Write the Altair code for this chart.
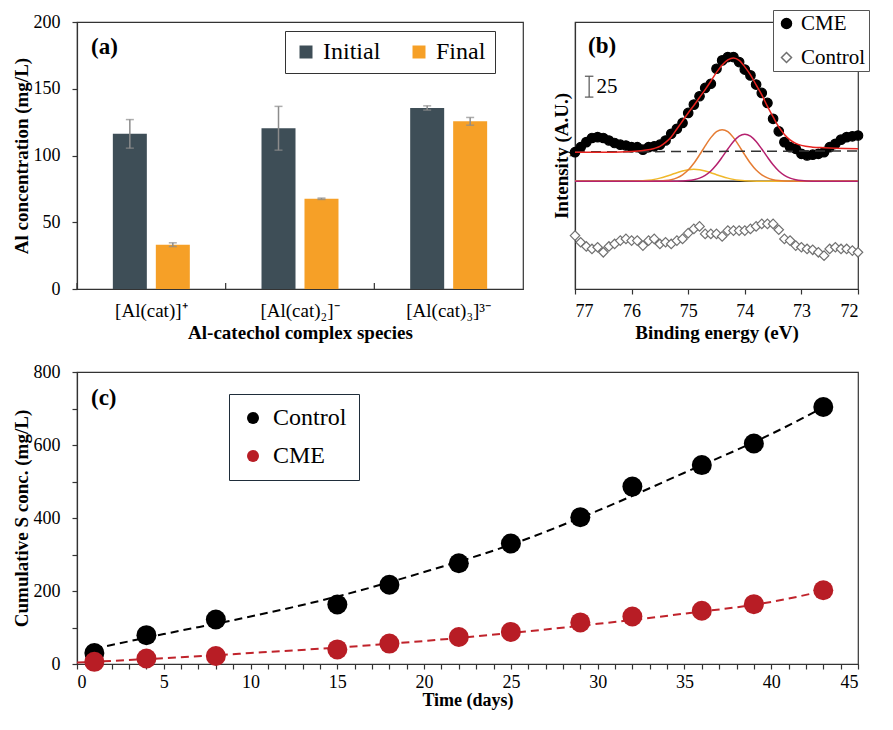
import altair as alt
import pandas as pd

FONT = "Liberation Serif"

# ---------------- Panel (a) data ----------------
species = ["[Al(cat)]⁺", "[Al(cat)₂]⁻", "[Al(cat)₃]³⁻"]
series_a = ["Initial", "Final"]
initial_vals = [116.2, 120.4, 135.6]
initial_err = [10.7, 16.4, 1.6]
final_vals = [33.2, 67.6, 125.6]
final_err = [1.4, 0.5, 2.9]
a_yticks = [0, 25, 50, 75, 100, 125, 150, 175, 200]

# ---------------- Panel (b) data ----------------
be_grid = [77.0, 76.9, 76.8, 76.7, 76.6, 76.5, 76.4, 76.3, 76.2, 76.1, 76.0,
           75.9, 75.8, 75.7, 75.6, 75.5, 75.4, 75.3, 75.2, 75.1, 75.0,
           74.9, 74.8, 74.7, 74.6, 74.5, 74.4, 74.3, 74.2, 74.1, 74.0,
           73.9, 73.8, 73.7, 73.6, 73.5, 73.4, 73.3, 73.2, 73.1, 73.0,
           72.9, 72.8, 72.7, 72.6, 72.5, 72.4, 72.3, 72.2, 72.1, 72.0]
cme_int = [164, 170, 176, 181, 182, 181, 178, 175, 173, 172, 170,
           170, 167, 170, 171, 173, 178, 186, 192, 199, 211,
           221, 231, 241, 246, 264, 274, 278, 278, 272, 263,
           256, 245, 235, 223, 204, 189, 176, 170, 168, 162,
           160, 161, 162, 164, 170, 174, 179, 182, 183, 184]
ctl_int = [64, 56, 51, 48, 50, 44, 51, 54, 58, 60, 58,
           58, 52, 58, 60, 54, 56, 54, 58, 60, 67,
           72, 75, 66, 66, 66, 63, 70, 70, 70, 70,
           72, 75, 78, 78, 78, 71, 60, 58, 52, 50,
           48, 47, 44, 40, 48, 50, 48, 48, 46, 44]

env_x = [77.0, 76.6, 76.2, 76.0, 75.8, 75.6, 75.5, 75.4, 75.3, 75.2, 75.1, 75.0,
         74.9, 74.8, 74.7, 74.6, 74.5, 74.4, 74.3, 74.2, 74.1, 74.0, 73.9, 73.8,
         73.7, 73.6, 73.5, 73.4, 73.3, 73.2, 73.1, 73.0, 72.8, 72.6, 72.4, 72.0]
env_y = [163.9, 164.0, 164.3, 164.9, 166.1, 168.5, 170.9, 175.7, 182.3, 191.8, 201.4, 211.0,
         220.0, 229.5, 239.0, 249.0, 259.6, 268.6, 274.6, 277.0, 274.0, 266.2, 256.6, 244.6,
         232.6, 218.8, 206.2, 194.2, 185.3, 178.7, 174.5, 172.1, 170.0, 169.3, 168.8, 168.2]

orange_x = [77.0, 76.0, 75.8, 75.6, 75.4, 75.3, 75.2, 75.1, 75.0, 74.9, 74.8, 74.7, 74.6, 74.5,
            74.4, 74.3, 74.2, 74.1, 74.0, 73.9, 73.8, 73.7, 73.6, 73.5, 73.4, 73.2, 73.0, 72.0]
orange_y = [129, 129, 129, 129.1, 129.9, 131.0, 133.2, 136.9, 142.6, 150.7, 160.7, 171.5, 181.4, 188.5,
            191.0, 188.5, 181.4, 171.5, 160.7, 150.7, 142.6, 136.9, 133.2, 131.0, 129.9, 129.1, 129, 129]

magenta_x = [77.0, 75.4, 75.2, 75.0, 74.9, 74.8, 74.7, 74.6, 74.5, 74.4, 74.3, 74.2, 74.1, 74.0,
             73.9, 73.8, 73.7, 73.6, 73.5, 73.4, 73.3, 73.2, 73.1, 73.0, 72.8, 72.6, 72.0]
magenta_y = [129, 129, 129.1, 129.9, 131.0, 132.9, 136.3, 141.5, 148.9, 158.0, 167.8, 176.8, 183.3, 185.6,
             183.3, 176.8, 167.8, 158.0, 148.9, 141.5, 136.3, 132.9, 131.0, 129.9, 129.1, 129, 129]

yellow_x = [77.0, 76.1, 75.9, 75.8, 75.7, 75.6, 75.5, 75.4, 75.3, 75.2, 75.1, 75.0, 74.9,
            74.8, 74.7, 74.6, 74.5, 74.4, 74.3, 74.2, 74.1, 74.0, 73.9, 73.7, 72.0]
yellow_y = [129, 129.1, 129.4, 129.7, 130.4, 131.4, 132.9, 134.8, 137.0, 139.4, 141.4, 142.9, 143.4,
            142.9, 141.4, 139.4, 137.0, 134.8, 132.9, 131.4, 130.4, 129.7, 129.4, 129.1, 129]

dash_base_x = [77.0, 72.0]
dash_base_y = [164.3, 165.5]
solid_base_x = [77.0, 72.0]
solid_base_y = [129, 129]
b_xticks = [77, 76.5, 76, 75.5, 75, 74.5, 74, 73.5, 73, 72.5, 72]
scalebar_x = [76.75]
scalebar_lo = [230]
scalebar_hi = [255]

# ---------------- Panel (c) data ----------------
days = [1, 4, 8, 15, 18, 22, 25, 29, 32, 36, 39, 43]
control_s = [30, 79, 122, 163, 217, 276, 330, 402, 486, 545, 604, 704]
cme_s = [6, 15, 22, 40, 56, 74, 88, 114, 130, 146, 164, 202]
fit_control_days = [1, 5, 10, 15, 20, 25, 30, 35, 40, 43]
fit_control = [42, 82, 130, 185, 252, 327, 420, 524, 630, 703]
fit_cme_days = [0, 5, 10, 15, 20, 25, 30, 35, 40, 43]
fit_cme = [4, 16, 30, 45, 63, 85, 110, 138, 170, 200]
c_xticks = list(range(0, 46))
c_yticks = [0, 100, 200, 300, 400, 500, 600, 700, 800]

W_A, W_B, H_TOP = 446, 283, 267
W_C, H_C = 781, 292

# ================= Panel (a) =================
df_a = pd.DataFrame({
    "species": species * 2,
    "series": ["Initial"] * 3 + ["Final"] * 3,
    "value": initial_vals + final_vals,
    "err": initial_err + final_err,
})
df_a["lo"] = df_a["value"] - df_a["err"]
df_a["hi"] = df_a["value"] + df_a["err"]

x_a = alt.X("species:N", sort=species,
            scale=alt.Scale(paddingInner=0, paddingOuter=0),
            axis=alt.Axis(title="Al-catechol complex species", labelAngle=0, ticks=False,
                          labelFontSize=19, labelPadding=12, titlePadding=3))
xo_a = alt.XOffset("series:N", sort=series_a,
                   scale=alt.Scale(paddingInner=0.209, paddingOuter=0.834))
y_a = alt.Y("value:Q", scale=alt.Scale(domain=[0, 200], nice=False),
            axis=alt.Axis(title="Al concentration (mg/L)", values=a_yticks,
                          labelExpr="datum.value % 50 == 0 ? datum.label : ''",
                          labelPadding=12, titlePadding=2))

bars = alt.Chart(df_a).mark_bar().encode(
    x=x_a, xOffset=xo_a, y=y_a,
    color=alt.Color("series:N", sort=series_a,
                    scale=alt.Scale(domain=series_a, range=["#3e4e57", "#f6a027"]),
                    legend=alt.Legend(title=None, orient="none", legendX=208, legendY=9,
                                      direction="horizontal", symbolType="square",
                                      symbolSize=169, labelFontSize=24, padding=9,
                                      strokeColor="#333", columnPadding=26, labelOffset=5,
                                      fillColor="white")))
err_rule = alt.Chart(df_a).mark_rule(color="#8c8c8c", strokeWidth=1.5).encode(
    x=x_a, xOffset=xo_a, y=alt.Y("lo:Q"), y2="hi:Q")
cap_lo = alt.Chart(df_a).mark_tick(color="#8c8c8c", size=8, thickness=1.5).encode(
    x=x_a, xOffset=xo_a, y=alt.Y("lo:Q"))
cap_hi = alt.Chart(df_a).mark_tick(color="#8c8c8c", size=8, thickness=1.5).encode(
    x=x_a, xOffset=xo_a, y=alt.Y("hi:Q"))
sep = alt.Chart(pd.DataFrame({"species": species})).mark_rule(color="#333", strokeWidth=1.2).encode(
    x=alt.X("species:N", sort=species, bandPosition=0),
    y=alt.value(H_TOP - 6), y2=alt.value(H_TOP))
lab_a = alt.Chart(pd.DataFrame({"t": ["(a)"]})).mark_text(
    font=FONT, fontSize=23, fontWeight="bold", align="left", baseline="middle", color="black"
).encode(text="t:N", x=alt.value(14), y=alt.value(25))

chart_a = alt.layer(bars, err_rule, cap_lo, cap_hi, sep, lab_a).properties(width=W_A, height=H_TOP)

# ================= Panel (b) =================
df_pts = pd.concat([
    pd.DataFrame({"be": be_grid, "intensity": cme_int, "sample": "CME"}),
    pd.DataFrame({"be": be_grid, "intensity": ctl_int, "sample": "Control"}),
])
x_b = alt.X("be:Q", scale=alt.Scale(domain=[72, 77], reverse=True, nice=False),
            axis=alt.Axis(title="Binding energy (eV)", values=b_xticks,
                          labelExpr="datum.value % 1 == 0 ? format(datum.value, 'd') : ''",
                          labelPadding=8, titlePadding=3))
y_b = alt.Y("intensity:Q", scale=alt.Scale(domain=[0, 320], nice=False),
            axis=alt.Axis(title="Intensity (A.U.)", labels=False, ticks=False, titlePadding=4))

samples_b = ["CME", "Control"]
leg_b = alt.Legend(title=None, orient="none", legendX=198, legendY=-12, padding=3,
                   rowPadding=12, symbolSize=100, labelFontSize=21, strokeColor="#555",
                   labelOffset=4, fillColor="white")
pts_b = alt.Chart(df_pts).mark_point(filled=True, strokeWidth=1.2, opacity=1).encode(
    x=x_b, y=y_b,
    shape=alt.Shape("sample:N", sort=samples_b,
                    scale=alt.Scale(domain=samples_b, range=["circle", "diamond"]), legend=leg_b),
    fill=alt.Fill("sample:N", sort=samples_b,
                  scale=alt.Scale(domain=samples_b, range=["black", "white"]), legend=leg_b),
    stroke=alt.Stroke("sample:N", sort=samples_b,
                      scale=alt.Scale(domain=samples_b, range=["black", "#707070"]), legend=leg_b),
    size=alt.value(90),
)


def line_layer(xs, ys, color, width=1.5, dash=None):
    df = pd.DataFrame({"be": xs, "intensity": ys})
    if dash is None:
        m = alt.Chart(df).mark_line(color=color, strokeWidth=width, interpolate="monotone")
    else:
        m = alt.Chart(df).mark_line(color=color, strokeWidth=width, strokeDash=dash)
    return m.encode(x=x_b, y=y_b)


solid_line = line_layer(solid_base_x, solid_base_y, "#222222", 1.5)
yellow_line = line_layer(yellow_x, yellow_y, "#f0b82a", 1.5)
orange_line = line_layer(orange_x, orange_y, "#e57c33", 1.5)
magenta_line = line_layer(magenta_x, magenta_y, "#b5206e", 1.5)
dash_line = line_layer(dash_base_x, dash_base_y, "#333333", 1.5, dash=[10, 6])
env_line = line_layer(env_x, env_y, "#e8231f", 1.5)

df_sb = pd.DataFrame({"be": scalebar_x, "lo": scalebar_lo, "hi": scalebar_hi,
                      "c1": [76.825], "c2": [76.675], "tx": [76.62], "ty": [242], "t": ["25"]})
sb_rule = alt.Chart(df_sb).mark_rule(color="#555", strokeWidth=1.2).encode(
    x=alt.X("be:Q"), y=alt.Y("lo:Q"), y2="hi:Q")
sb_cap1 = alt.Chart(df_sb).mark_rule(color="#555", strokeWidth=1.2).encode(
    x=alt.X("c1:Q"), x2="c2:Q", y=alt.Y("lo:Q"))
sb_cap2 = alt.Chart(df_sb).mark_rule(color="#555", strokeWidth=1.2).encode(
    x=alt.X("c1:Q"), x2="c2:Q", y=alt.Y("hi:Q"))
sb_text = alt.Chart(df_sb).mark_text(font=FONT, fontSize=21, align="left", baseline="middle",
                                     color="black").encode(
    x=alt.X("tx:Q"), y=alt.Y("ty:Q"), text="t:N")
lab_b = alt.Chart(pd.DataFrame({"t": ["(b)"]})).mark_text(
    font=FONT, fontSize=23, fontWeight="bold", align="left", baseline="middle", color="black"
).encode(text="t:N", x=alt.value(13), y=alt.value(24))

chart_b = alt.layer(pts_b, solid_line, yellow_line, orange_line, magenta_line, dash_line,
                    env_line, sb_rule, sb_cap1, sb_cap2, sb_text, lab_b
                    ).properties(width=W_B, height=H_TOP)

# ================= Panel (c) =================
samples_c = ["Control", "CME"]
df_c = pd.DataFrame({"day": days * 2, "conc": control_s + cme_s,
                     "sample": ["Control"] * len(days) + ["CME"] * len(days)})
x_c = alt.X("day:Q", scale=alt.Scale(domain=[0, 45], nice=False),
            axis=alt.Axis(title="Time (days)", values=c_xticks,
                          labelExpr="datum.value % 5 == 0 ? datum.label : ''",
                          labelPadding=4, titlePadding=0, titleFontSize=18))
y_c = alt.Y("conc:Q", scale=alt.Scale(domain=[0, 800], nice=False),
            axis=alt.Axis(title="Cumulative S conc. (mg/L)", values=c_yticks,
                          labelExpr="datum.value % 200 == 0 ? datum.label : ''",
                          labelPadding=12, titlePadding=2))

fit_ctl_line = alt.Chart(pd.DataFrame({"day": fit_control_days, "conc": fit_control})).mark_line(
    color="black", strokeWidth=2, strokeDash=[8, 5], interpolate="monotone").encode(x=x_c, y=y_c)
fit_cme_line = alt.Chart(pd.DataFrame({"day": fit_cme_days, "conc": fit_cme})).mark_line(
    color="#c0232b", strokeWidth=2, strokeDash=[8, 5], interpolate="monotone").encode(x=x_c, y=y_c)
pts_c = alt.Chart(df_c).mark_circle(size=400, opacity=1).encode(
    x=x_c, y=y_c,
    color=alt.Color("sample:N", sort=samples_c,
                    scale=alt.Scale(domain=samples_c, range=["black", "#b81d25"]),
                    legend=alt.Legend(title=None, orient="none", legendX=152, legendY=22,
                                      padding=12, rowPadding=14, symbolSize=144,
                                      labelFontSize=24, strokeColor="#1f2d3a", labelOffset=8,
                                      fillColor="white")))
lab_c = alt.Chart(pd.DataFrame({"t": ["(c)"]})).mark_text(
    font=FONT, fontSize=23, fontWeight="bold", align="left", baseline="middle", color="black"
).encode(text="t:N", x=alt.value(14), y=alt.value(26))

chart_c = alt.layer(fit_ctl_line, fit_cme_line, pts_c, lab_c).properties(width=W_C, height=H_C)

# ================= Compose =================
indep = dict(color="independent", fill="independent", shape="independent",
             stroke="independent")
top = alt.hconcat(chart_a, chart_b, spacing=52, bounds="flush").resolve_scale(**indep)
chart = alt.vconcat(top, chart_c, spacing=H_TOP + 83, bounds="flush").resolve_scale(
    **indep
).properties(
    padding={"left": 3, "top": 0, "right": 0, "bottom": 0}
).configure_view(
    stroke="#333", strokeWidth=1.2
).configure_axis(
    labelFont=FONT, titleFont=FONT, labelFontSize=18, titleFontSize=19,
    titleFontWeight="bold", labelColor="black", titleColor="black",
    domainColor="#333", tickColor="#333", domainWidth=1.2, tickWidth=1.2,
    tickSize=5, grid=False
).configure_legend(
    labelFont=FONT, labelColor="black"
)

chart.save("out.html", embed_options={"renderer": "svg", "actions": False})
